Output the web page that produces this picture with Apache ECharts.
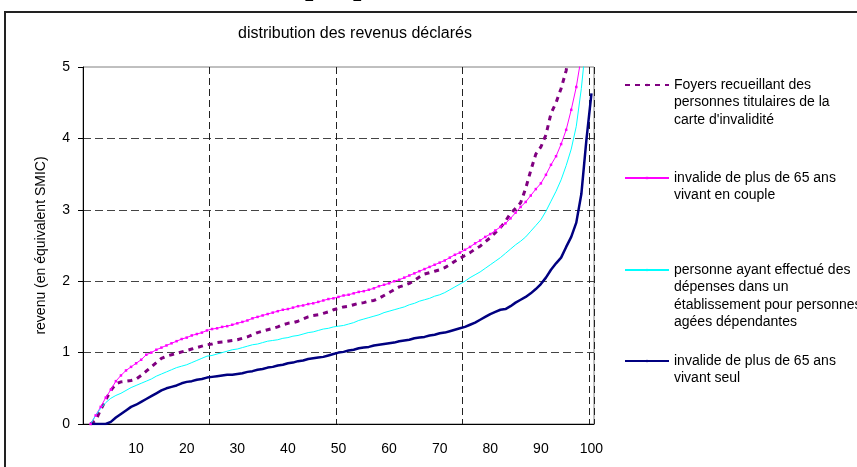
<!DOCTYPE html>
<html>
<head>
<meta charset="utf-8">
<script src="https://cdn.jsdelivr.net/npm/echarts@6/dist/echarts.min.js"></script>
<style>
  html, body { margin: 0; padding: 0; background: #fff; }
  #chart { width: 857px; height: 467px; }
</style>
</head>
<body>
<div id="chart"></div>
<script>
  // percentiles 0..100 (index 0 carries no value)
  const categories = Array.from({ length: 101 }, (_, i) => String(i));
  const xTickLabels = ['10', '20', '30', '40', '50', '60', '70', '80', '90', '100'];
  const yTicks = [0, 1, 2, 3, 4, 5];

  const carteInvalidite = [null,
    0, 0.05, 0.2, 0.34, 0.47, 0.56, 0.59, 0.6, 0.61, 0.63,
    0.68, 0.74, 0.8, 0.86, 0.92, 0.95, 0.97, 0.99, 1.01, 1.03,
    1.05, 1.07, 1.09, 1.11, 1.12, 1.14, 1.15, 1.16, 1.17, 1.18,
    1.2, 1.22, 1.25, 1.28, 1.3, 1.32, 1.34, 1.36, 1.39, 1.41,
    1.42, 1.44, 1.47, 1.5, 1.52, 1.53, 1.55, 1.57, 1.6, 1.62,
    1.64, 1.65, 1.67, 1.69, 1.7, 1.72, 1.73, 1.76, 1.8, 1.84,
    1.88, 1.92, 1.94, 1.97, 2.01, 2.06, 2.1, 2.12, 2.14, 2.16,
    2.19, 2.23, 2.28, 2.32, 2.36, 2.4, 2.45, 2.49, 2.55, 2.61,
    2.68, 2.75, 2.84, 2.95, 3.02, 3.1, 3.3, 3.55, 3.78, 3.88,
    4.05, 4.35, 4.5, 4.7, 4.95, 5.4, null, null, null, null];

  const enCouple = [null,
    0, 0.12, 0.24, 0.37, 0.48, 0.6, 0.68, 0.75, 0.8, 0.85,
    0.9, 0.97, 1.0, 1.04, 1.07, 1.1, 1.13, 1.16, 1.19, 1.21,
    1.24, 1.26, 1.28, 1.31, 1.33, 1.34, 1.36, 1.37, 1.39, 1.41,
    1.43, 1.45, 1.48, 1.5, 1.52, 1.54, 1.56, 1.58, 1.6, 1.61,
    1.63, 1.65, 1.66, 1.68, 1.69, 1.71, 1.73, 1.75, 1.76, 1.78,
    1.8, 1.81, 1.83, 1.85, 1.86, 1.88, 1.9, 1.93, 1.95, 1.97,
    2.0, 2.02, 2.05, 2.08, 2.11, 2.14, 2.17, 2.2, 2.23, 2.26,
    2.29, 2.33, 2.37, 2.4, 2.44, 2.48, 2.53, 2.57, 2.62, 2.66,
    2.71, 2.76, 2.81, 2.88, 2.96, 3.04, 3.11, 3.2, 3.29, 3.37,
    3.49, 3.63, 3.75, 3.92, 4.12, 4.4, 4.72, 5.15, null, null];

  const etablissement = [null,
    0, 0.12, 0.22, 0.3, 0.36, 0.4, 0.43, 0.47, 0.51, 0.54,
    0.57, 0.6, 0.63, 0.67, 0.7, 0.73, 0.76, 0.79, 0.81, 0.83,
    0.86, 0.89, 0.92, 0.95, 0.96, 0.98, 1.0, 1.02, 1.04, 1.05,
    1.07, 1.09, 1.11, 1.12, 1.14, 1.16, 1.17, 1.18, 1.2, 1.21,
    1.23, 1.24, 1.26, 1.28, 1.29, 1.31, 1.33, 1.34, 1.36, 1.37,
    1.38, 1.4, 1.42, 1.45, 1.47, 1.49, 1.51, 1.53, 1.56, 1.58,
    1.6, 1.62, 1.64, 1.67, 1.69, 1.72, 1.74, 1.76, 1.79, 1.81,
    1.84, 1.88, 1.92, 1.96, 2.0, 2.05, 2.09, 2.13, 2.18, 2.23,
    2.28, 2.33, 2.39, 2.45, 2.51, 2.56, 2.62, 2.7, 2.78, 2.86,
    2.98, 3.12, 3.26, 3.42, 3.62, 3.85, 4.17, 4.7, 5.4, null];

  const seul = [null,
    0, 0, 0, 0, 0.03, 0.09, 0.14, 0.19, 0.24, 0.27,
    0.31, 0.35, 0.39, 0.43, 0.47, 0.5, 0.52, 0.54, 0.57, 0.59,
    0.6, 0.62, 0.63, 0.65, 0.66, 0.67, 0.68, 0.69, 0.69, 0.7,
    0.71, 0.73, 0.74, 0.76, 0.77, 0.79, 0.8, 0.82, 0.83, 0.85,
    0.86, 0.88, 0.89, 0.91, 0.92, 0.93, 0.94, 0.96, 0.98, 1.0,
    1.01, 1.03, 1.04, 1.06, 1.07, 1.08, 1.1, 1.11, 1.12, 1.13,
    1.14, 1.16, 1.17, 1.18, 1.2, 1.21, 1.22, 1.24, 1.25, 1.27,
    1.28, 1.3, 1.32, 1.34, 1.36, 1.39, 1.42, 1.46, 1.5, 1.54,
    1.57, 1.6, 1.61, 1.65, 1.7, 1.74, 1.78, 1.83, 1.89, 1.96,
    2.05, 2.16, 2.25, 2.33, 2.48, 2.62, 2.82, 3.22, 3.98, 4.63];

  const seriesNames = ['carte', 'couple', 'etab', 'seul'];
  const legendLines = {
    carte: ["Foyers recueillant des", "personnes titulaires de la", "carte d'invalidité"],
    couple: ['invalide de plus de 65 ans', 'vivant en couple'],
    etab: ['personne ayant effectué des', 'dépenses dans un', 'établissement pour personnes', 'agées dépendantes'],
    seul: ['invalide de plus de 65 ans', 'vivant seul'],
  };
  const legendIconY = [85, 178, 270, 361];

  const font = '"Liberation Sans", Arial, sans-serif';
  const lineH = 17.5;

  const chart = echarts.init(document.getElementById('chart'), null, { renderer: 'canvas' });

  // one legend per entry; blank lines above the text keep the sample level with the first line
  const legends = seriesNames.map((name, i) => {
    const lines = legendLines[name];
    const blockH = (2 * lines.length - 1) * lineH;
    return {
      data: [name],
      left: 624,
      top: legendIconY[i] - blockH / 2,
      padding: 0,
      itemWidth: 44,
      itemHeight: 3,
      selectedMode: false,
      formatter: () => Array(lines.length - 1).fill(' ').concat(lines).join('\n'),
      textStyle: { fontFamily: font, fontSize: 14, color: '#000', lineHeight: lineH },
    };
  });

  chart.setOption({
    animation: false,
    backgroundColor: '#fff',
    title: {
      text: 'distribution des revenus déclarés',
      left: 238,
      top: 26,
      padding: 0,
      textStyle: { fontFamily: font, fontSize: 16, fontWeight: 'normal', color: '#000' },
    },
    legend: legends,
    graphic: [
      {
        type: 'rect',
        z: -1,
        shape: { x: 5, y: 12, width: 900, height: 500 },
        style: { fill: 'none', stroke: '#222', lineWidth: 2 },
      },
      // descenders of the page heading cut off above the frame
      {
        type: 'text',
        left: 305,
        top: -28,
        style: { text: 'p', font: 'bold 30px "Liberation Serif", serif', fill: '#000' },
      },
      {
        type: 'text',
        left: 353,
        top: -28,
        style: { text: 'p', font: 'bold 30px "Liberation Serif", serif', fill: '#000' },
      },
    ],
    grid: {
      left: 83,
      right: 263,
      top: 67,
      bottom: 43,
      show: true,
      borderColor: '#808080',
      borderWidth: 1,
    },
    xAxis: {
      type: 'category',
      data: categories,
      boundaryGap: true,
      axisLine: { lineStyle: { color: '#000', width: 1 } },
      axisTick: {
        length: 5,
        interval: (idx) => idx % 25 === 0,
        lineStyle: { color: '#000' },
      },
      axisLabel: {
        interval: (idx, val) => xTickLabels.includes(val),
        margin: 18,
        fontFamily: font,
        fontSize: 14,
        color: '#000',
      },
      splitLine: {
        show: true,
        interval: (idx) => idx % 25 === 0,
        lineStyle: { color: '#222', type: [7, 4], width: 1 },
      },
    },
    yAxis: {
      type: 'value',
      min: yTicks[0],
      max: yTicks[yTicks.length - 1],
      interval: 1,
      name: 'revenu (en équivalent SMIC)',
      nameLocation: 'middle',
      nameGap: 35,
      nameRotate: 90,
      nameTextStyle: { fontFamily: font, fontSize: 14, color: '#000' },
      axisLine: { show: true, lineStyle: { color: '#000', width: 1 } },
      axisTick: { show: true, length: 5, lineStyle: { color: '#000' } },
      axisLabel: { margin: 13, fontFamily: font, fontSize: 14, color: '#000' },
      splitLine: {
        show: true,
        showMinLine: false,
        showMaxLine: false,
        lineStyle: { color: '#444', type: [8, 4], width: 1 },
      },
    },
    series: [
      {
        name: 'carte',
        type: 'line',
        data: carteInvalidite,
        symbol: 'none',
        clip: true,
        lineStyle: { color: '#800080', width: 3, type: [5, 5] },
        itemStyle: { color: '#800080' },
      },
      {
        name: 'couple',
        type: 'line',
        data: enCouple,
        symbol: 'rect',
        symbolSize: 2.5,
        showAllSymbol: true,
        clip: true,
        lineStyle: { color: '#ff00ff', width: 1 },
        itemStyle: { color: '#ff00ff' },
      },
      {
        name: 'etab',
        type: 'line',
        data: etablissement,
        symbol: 'none',
        clip: true,
        lineStyle: { color: '#00ffff', width: 1 },
        itemStyle: { color: '#00ffff' },
      },
      {
        name: 'seul',
        type: 'line',
        data: seul,
        symbol: 'none',
        clip: true,
        lineStyle: { color: '#000080', width: 2.5 },
        itemStyle: { color: '#000080' },
      },
    ],
  });
</script>
</body>
</html>
